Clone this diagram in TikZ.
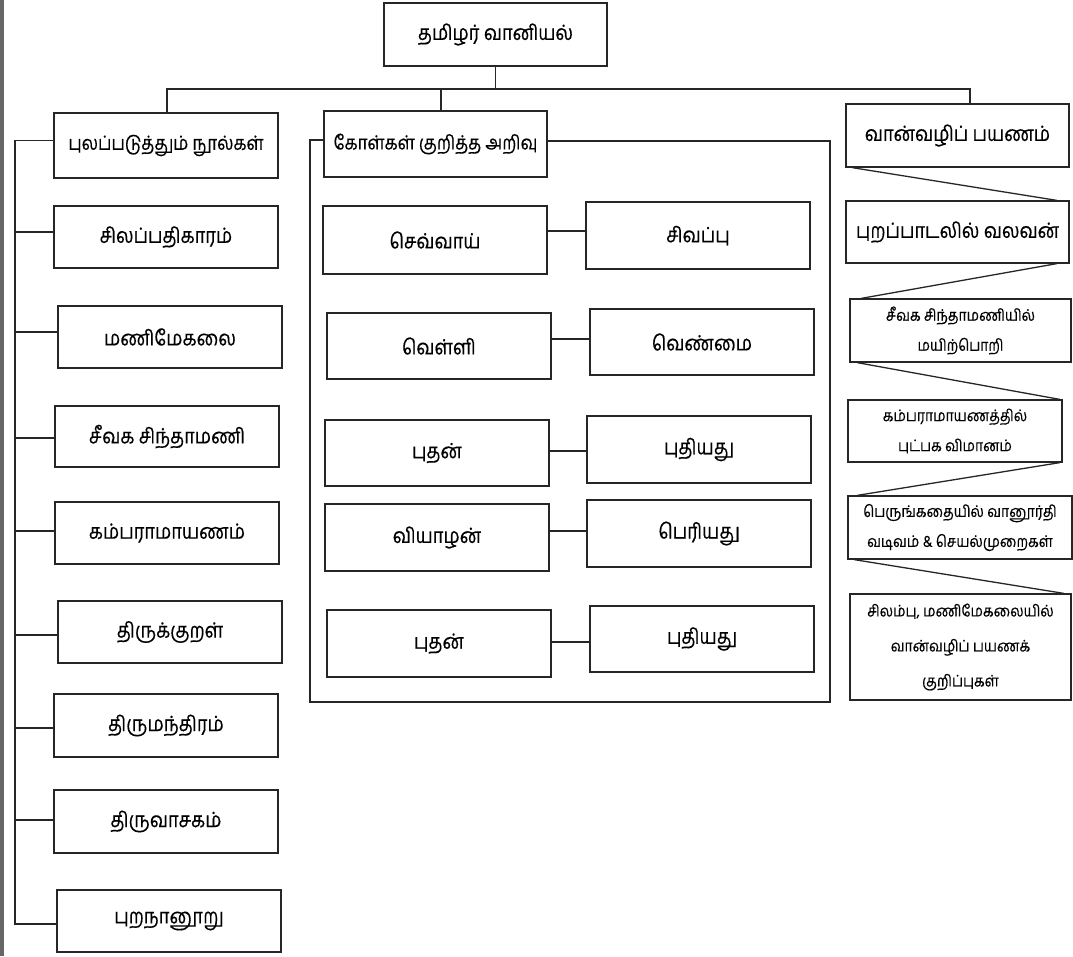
\documentclass[tikz,border=0pt]{standalone}
\usepackage{fontspec}
\newfontfamily\ta[Script=Tamil,FakeStretch=0.87,FakeBold=0.4]{Hind Madurai}
\tikzset{
  tb/.style={draw=black!85, line width=1.3pt, inner sep=0pt, font=\ta\fontsize{21}{24}\selectfont, align=center},
  th/.style={tb, font=\ta\fontsize{19.5}{24}\selectfont},
  ts/.style={draw=black!85, line width=1.3pt, inner sep=0pt, font=\ta\fontsize{16}{30}\selectfont, align=center},
  tt/.style={ts, font=\ta\fontsize{16}{35}\selectfont},
  ln/.style={draw=black!85, line width=1.3pt},
}
\newcommand\mybox[7][tb]{\node[#1, minimum width={(#5)-(#3)}, minimum height={(#6)-(#4)}] (#2) at ({(#3+#5)/2},{-(#4+#6)/2}) {#7};}
\begin{document}
\begin{tikzpicture}[x=1pt,y=1pt]
\useasboundingbox (0,0) rectangle (1073,-956);
\fill[black!60] (0,0) rectangle (3.5,-956);
% top
\mybox{top}{384}{3}{607}{66}{தமிழர் வானியல்}
\mybox[th]{h1}{54}{113}{278}{178}{புலப்படுத்தும் நூல்கள்}
\mybox[th]{h2}{324}{111}{547}{177}{கோள்கள் குறித்த அறிவு}
\mybox{h3}{846}{104}{1069}{167}{வான்வழிப் பயணம்}
\coordinate (bL) at (167,-89);
\coordinate (bM) at (441,-89);
\coordinate (bR) at (970,-89);
\draw[ln] (top.south |- 0,-66) -- (top.south |- bL);
\draw[ln] (bL |- h1.north) -- (bL) -- (bR) -- (bR |- h3.north);
\draw[ln] (bM) -- (bM |- h2.north);
% left column
\mybox{l1}{54}{206}{278}{268}{சிலப்பதிகாரம்}
\mybox{l2}{58}{306}{282}{368}{மணிமேகலை}
\mybox{l3}{55}{406}{279}{467}{சீவக சிந்தாமணி}
\mybox{l4}{55}{502}{279}{564}{கம்பராமாயணம்}
\mybox{l5}{58}{601}{282}{663}{திருக்குறள்}
\mybox{l6}{54}{694}{278}{757}{திருமந்திரம்}
\mybox{l7}{54}{790}{278}{853}{திருவாசகம்}
\mybox{l8}{57}{890}{281}{952}{புறநானூறு}
\coordinate (sp) at (15,-140.5);
\draw[ln] (h1.west |- sp) -- (sp) -- (15,-924) -- (l8.west |- 0,-924);
\foreach \n/\y in {l1/232,l2/332,l3/438,l4/531,l5/635,l6/728,l7/820}
  \draw[ln] (15,-\y) -- (\n.west |- 0,-\y);
% middle
\coordinate (fTL) at (310,-140);
\coordinate (fTR) at (830,-141);
\coordinate (fBR) at (830,-702);
\draw[ln] (h2.west |- fTL) -- (fTL) |- (fBR) -- (fTR) -- (h2.east |- fTR);
\mybox{a1}{323}{206}{547}{274}{செவ்வாய்}
\mybox{b1}{586}{202}{810}{269}{சிவப்பு}
\mybox{a2}{327}{313}{551}{379}{வெள்ளி}
\mybox{b2}{590}{309}{814}{375}{வெண்மை}
\mybox{a3}{325}{420}{549}{486}{புதன்}
\mybox{b3}{587}{416}{811}{483}{புதியது}
\mybox{a4}{325}{504}{549}{571}{வியாழன்}
\mybox{b4}{587}{500}{811}{567}{பெரியது}
\mybox{a5}{327}{610}{551}{677}{புதன்}
\mybox{b5}{590}{606}{814}{672}{புதியது}
\draw[ln] (a1.east |- 0,-231) -- (b1.west |- 0,-231);
\draw[ln] (a2.east |- 0,-339) -- (b2.west |- 0,-339);
\draw[ln] (a3.east |- 0,-451) -- (b3.west |- 0,-451);
\draw[ln] (a4.east |- 0,-531) -- (b4.west |- 0,-531);
\draw[ln] (a5.east |- 0,-642) -- (b5.west |- 0,-642);
% right
\mybox{r1}{846}{201}{1069}{263}{புறப்பாடலில் வலவன்}
\mybox[ts]{r2}{850}{299}{1071}{362}{சீவக சிந்தாமணியில்\\மயிற்பொறி}
\mybox[ts]{r3}{848}{400}{1062}{462}{கம்பராமாயணத்தில்\\புட்பக விமானம்}
\mybox[ts]{r4}{848}{496}{1072}{559}{பெருங்கதையில் வானூர்தி\\வடிவம் \& செயல்முறைகள்}
\mybox[tt]{r5}{850}{594}{1071}{700}{சிலம்பு, மணிமேகலையில்\\வான்வழிப் பயணக்\\குறிப்புகள்}
\draw[ln] ([xshift=7pt]h3.south west) -- ([xshift=-13pt]r1.north east);
\draw[ln] ([xshift=-13pt]r1.south east) -- ([xshift=12pt]r2.north west);
\draw[ln] ([xshift=8pt]r2.south west) -- ([xshift=-3pt]r3.north east);
\draw[ln] ([xshift=-3pt]r3.south east) -- ([xshift=10pt]r4.north west);
\draw[ln] ([xshift=7pt]r4.south west) -- ([xshift=-8pt]r5.north east);
\end{tikzpicture}
\end{document}
